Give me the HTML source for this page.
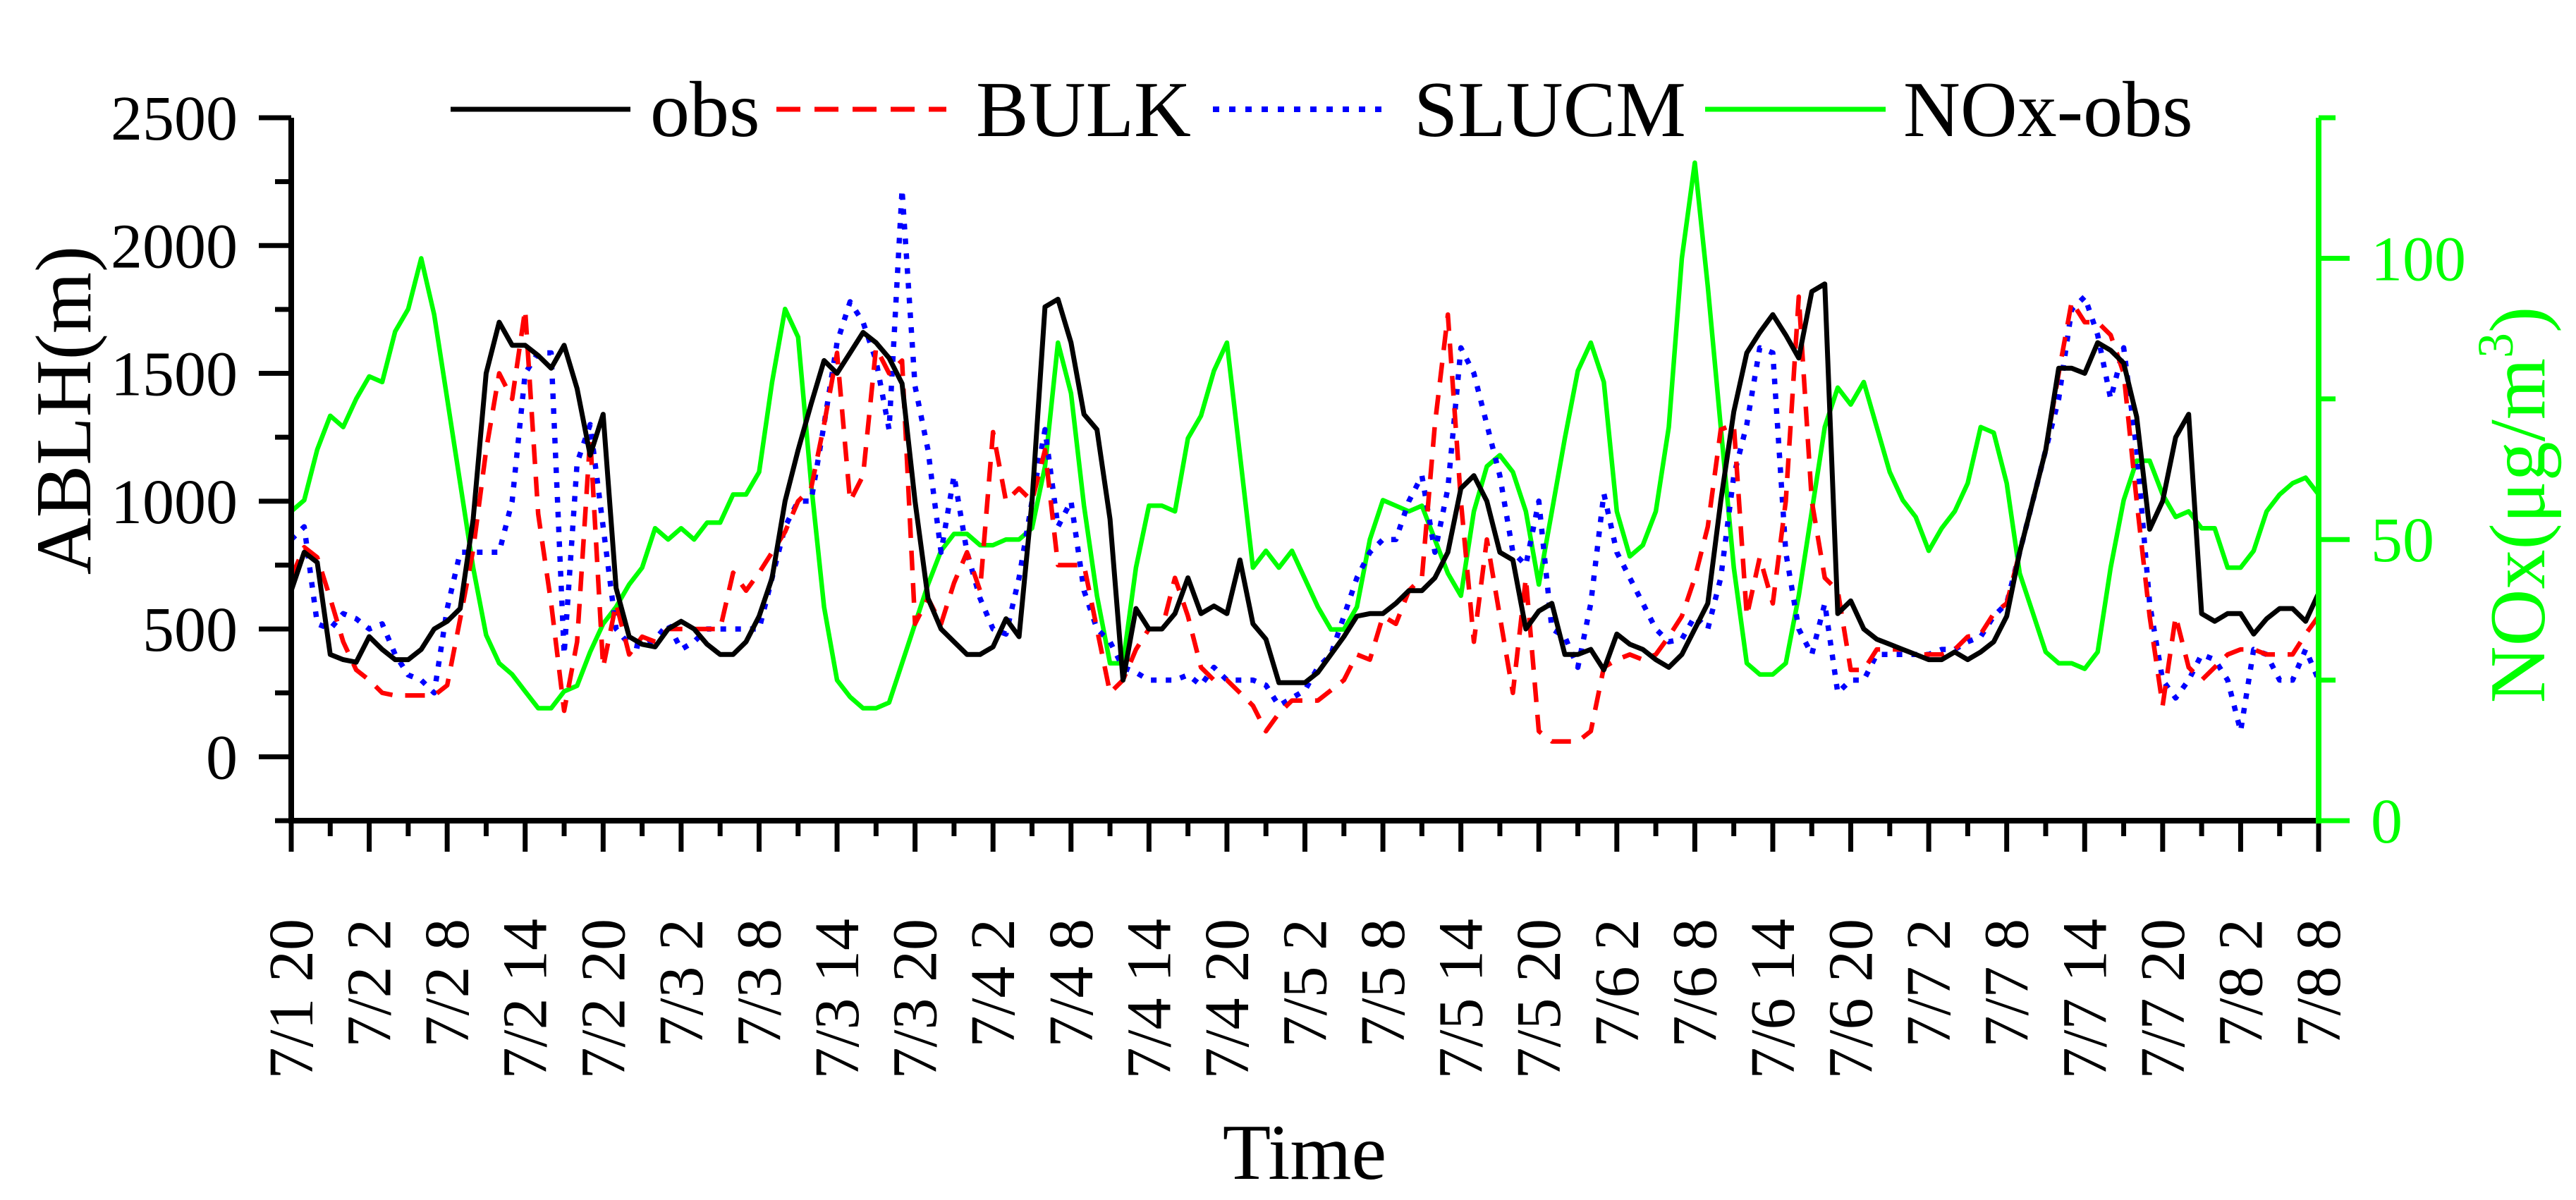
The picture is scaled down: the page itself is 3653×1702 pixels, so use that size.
<!DOCTYPE html>
<html><head><meta charset="utf-8"><style>
html,body{margin:0;padding:0;background:#fff;}
svg{display:block;font-family:"Liberation Serif",serif;}
</style></head><body>
<svg id="chart" width="3653" height="1702" viewBox="0 0 3653 1702" xmlns="http://www.w3.org/2000/svg">
<g id="grid"></g>
<g id="series"></g>
<g id="axes"></g>
<g id="legend">
  <line x1="639" y1="155" x2="894" y2="155" stroke="#000" stroke-width="7"/>
  <text x="922" y="193" font-size="112">obs</text>
  <line x1="1101" y1="155" x2="1342" y2="155" stroke="#ff0000" stroke-width="7" stroke-dasharray="34,20"/>
  <text x="1384" y="193" font-size="112">BULK</text>
  <line x1="1720" y1="155" x2="1970" y2="155" stroke="#0000ff" stroke-width="8" stroke-dasharray="9,14"/>
  <text x="2005" y="193" font-size="112">SLUCM</text>
  <line x1="2418" y1="155" x2="2674" y2="155" stroke="#00ff00" stroke-width="7"/>
  <text x="2699" y="193" font-size="112">NOx-obs</text>
</g>
<text transform="translate(128,582) rotate(-90)" text-anchor="middle" font-size="112">ABLH(m)</text>
<text transform="translate(3608,716) rotate(-90)" text-anchor="middle" font-size="112" fill="#00ff00">NOx(μg/m<tspan dy="-45" font-size="72">3</tspan><tspan dy="45">)</tspan></text>
<text x="1850" y="1672" text-anchor="middle" font-size="112">Time</text>
</svg>
<script>
const xLabels = ["7/1 20","7/2 2","7/2 8","7/2 14","7/2 20","7/3 2","7/3 8","7/3 14","7/3 20","7/4 2","7/4 8","7/4 14","7/4 20","7/5 2","7/5 8","7/5 14","7/5 20","7/6 2","7/6 8","7/6 14","7/6 20","7/7 2","7/7 8","7/7 14","7/7 20","7/8 2","7/8 8"];
const yTicks = [0,500,1000,1500,2000,2500];
const y2Ticks = [0,50,100];
const obs = [650,800,760,400,380,370,470,420,380,380,420,500,530,580,930,1500,1700,1610,1610,1570,1520,1610,1440,1180,1340,660,470,440,430,500,530,500,440,400,400,450,550,700,1000,1200,1380,1550,1500,1580,1660,1620,1560,1460,1000,620,500,450,400,400,430,540,470,1000,1760,1790,1620,1340,1280,930,300,580,500,500,560,700,560,590,560,770,520,460,290,290,290,330,400,470,550,560,560,600,650,650,700,800,1050,1100,1000,800,770,500,570,600,400,400,420,340,480,440,420,380,350,400,500,600,1000,1350,1580,1660,1730,1650,1560,1820,1850,560,610,500,460,440,420,400,380,380,410,380,410,450,550,800,1000,1200,1520,1520,1500,1620,1590,1540,1330,890,1000,1250,1340,560,530,560,560,480,540,580,580,530,640];
const bulk = [700,820,780,620,450,340,300,250,240,240,240,240,280,540,810,1200,1500,1400,1750,950,600,180,450,1250,350,600,400,470,450,500,500,500,500,500,720,650,720,800,880,1000,1050,1300,1580,1000,1100,1600,1500,1550,520,620,520,680,800,650,1270,1000,1050,1000,1200,750,750,750,500,250,300,420,500,500,700,550,350,300,300,250,200,100,170,220,220,220,260,300,400,380,550,520,650,700,1300,1730,1000,450,850,550,250,700,100,60,60,60,100,350,380,400,380,400,470,550,700,900,1280,1300,550,780,600,1000,1800,1000,700,650,340,340,420,420,420,400,400,400,420,470,480,560,600,800,1000,1200,1500,1780,1700,1700,1650,1500,1000,550,200,550,350,300,350,400,420,420,400,400,400,480,550];
const slucm = [850,900,520,500,560,540,500,520,400,320,300,250,580,800,800,800,800,1000,1500,1580,1580,400,1150,1300,900,500,440,430,460,520,420,450,500,500,500,500,500,700,900,1000,1000,1300,1620,1780,1700,1550,1280,2220,1450,1200,800,1100,800,620,500,480,700,1000,1280,900,1000,650,500,450,350,330,300,300,300,320,280,350,300,300,300,280,200,230,260,350,400,550,700,800,850,850,1000,1100,800,1050,1600,1500,1300,1100,800,750,1000,500,470,350,600,1030,800,700,600,500,450,460,550,500,700,1100,1300,1600,1580,800,500,400,600,250,300,300,400,400,400,400,400,420,420,450,470,550,600,800,1000,1200,1400,1750,1800,1650,1400,1600,1200,600,300,230,300,400,380,300,100,420,400,300,300,420,300];
const nox = [55,57,66,72,70,75,79,78,87,91,100,90,75,60,45,33,28,26,23,20,20,23,24,30,35,38,42,45,52,50,52,50,53,53,58,58,62,78,91,86,60,38,25,22,20,20,21,28,35,42,48,51,51,49,49,50,50,52,63,85,76,56,40,28,28,45,56,56,55,68,72,80,85,65,45,48,45,48,43,38,34,34,38,50,57,56,55,56,50,44,40,55,63,65,62,55,42,55,68,80,85,78,55,47,49,55,70,100,117,95,70,45,28,26,26,28,40,55,70,77,74,78,70,62,57,54,48,52,55,60,70,69,60,44,37,30,28,28,27,30,45,57,64,64,58,54,55,52,52,45,45,48,55,58,60,61,58];

const X0=413, X1=3288, HOURS=156;
const YTOP=167, YZERO=1073, YBOT=1164;
const yMin=-250, yMax=2500, y2Min=0, y2Max=125;
const xs = h => X0 + (X1-X0)*h/HOURS;
const ys = v => YBOT - (v-yMin)/(yMax-yMin)*(YBOT-YTOP);
const ys2 = v => YBOT - (v-y2Min)/(y2Max-y2Min)*(YBOT-YTOP);
const NS="http://www.w3.org/2000/svg";
function mk(tag, attrs, parent){const e=document.createElementNS(NS,tag);for(const k in attrs)e.setAttribute(k,attrs[k]);parent.appendChild(e);return e;}
const series=document.getElementById('series'), axes=document.getElementById('axes');

function drawLine(arr, scale, color, w, dash, name){
  const d = arr.map((v,i)=>(i?'L':'M')+xs(i).toFixed(1)+','+scale(v).toFixed(1)).join('');
  const p = mk('path',{d:d,fill:'none',stroke:color,'stroke-width':w,'stroke-linejoin':'round'},series);
  if(dash) p.setAttribute('stroke-dasharray',dash);
  
  
}
drawLine(nox, ys2, '#00ff00', 6.5, null, 'nox-obs-line');
drawLine(slucm, ys, '#0000ff', 7.5, '8,13', 'slucm-line');
drawLine(bulk, ys, '#ff0000', 6.5, '28,18', 'bulk-line');
drawLine(obs, ys, '#000000', 7, null, 'obs-line');

// left axis
let a = mk('line',{x1:X0,y1:YTOP,x2:X0,y2:YBOT+4,stroke:'#000','stroke-width':8},axes);


for(let v=yMin; v<=yMax; v+=250){
  const major = v%500===0;
  const t = mk('line',{x1:major?367:390,y1:ys(v),x2:X0,y2:ys(v),stroke:'#000','stroke-width':7},axes);
  
  
}
yTicks.forEach(v=>{
  const t = mk('text',{x:337,y:ys(v)+31,'text-anchor':'end','font-size':90},axes);
  t.textContent=v;
  
  
});
// bottom axis
a = mk('line',{x1:X0-4,y1:YBOT,x2:X1+4,y2:YBOT,stroke:'#000','stroke-width':8},axes);


for(let h=0; h<=HOURS; h+=3){
  const major = h%6===0;
  const t = mk('line',{x1:xs(h),y1:YBOT,x2:xs(h),y2:major?1208:1186,stroke:'#000','stroke-width':7},axes);
  
  
}
xLabels.forEach((lab,i)=>{
  const x = xs(i*6)+30;
  const t = mk('text',{transform:`translate(${x},1303) rotate(-90)`,'text-anchor':'end','font-size':90},axes);
  t.textContent=lab;
  
  
});
// right axis
a = mk('line',{x1:X1,y1:YTOP,x2:X1,y2:YBOT+4,stroke:'#00ff00','stroke-width':8},axes);


for(let v=0; v<=125; v+=25){
  const major = v%50===0;
  const t = mk('line',{x1:X1,y1:ys2(v),x2:major?3332:3312,y2:ys2(v),stroke:'#00ff00','stroke-width':7},axes);
  
  
}
y2Ticks.forEach(v=>{
  const t = mk('text',{x:3362,y:ys2(v)+31,'font-size':90,fill:'#00ff00'},axes);
  t.textContent=v;
  
  
});
</script>
</body></html>
